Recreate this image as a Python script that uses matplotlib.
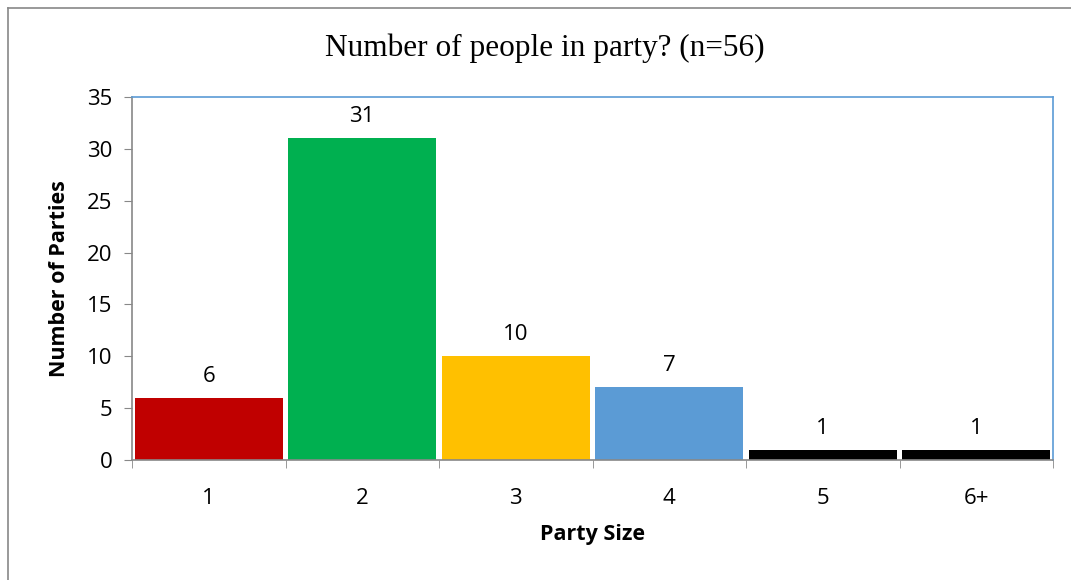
import matplotlib
matplotlib.use("Agg")
import matplotlib.pyplot as plt
from matplotlib.lines import Line2D

categories = ["1", "2", "3", "4", "5", "6+"]
counts = [6, 31, 10, 7, 1, 1]
colors = ["#C00000", "#00B050", "#FFC000", "#5B9BD5", "#000000", "#000000"]
yticks = [0, 5, 10, 15, 20, 25, 30, 35]

W, H = 1071, 580
fig = plt.figure(figsize=(W/100, H/100), dpi=100)
fig.lines.append(Line2D([7.5/W, 7.5/W], [0, 1-7.5/H], transform=fig.transFigure, color="#888888", linewidth=1.2))
fig.lines.append(Line2D([7.5/W, 1], [1-7.5/H, 1-7.5/H], transform=fig.transFigure, color="#888888", linewidth=1.2))
ax = fig.add_axes([132/W, 1-460/H, (1053-132)/W, (460-97)/H])

x = list(range(len(categories)))
ax.bar(x, counts, width=0.965, color=colors, zorder=2)
for xi, v in zip(x, counts):
    ax.annotate(str(v), (xi, v), xytext=(0, 8), textcoords="offset points",
                ha="center", va="bottom", fontsize=16, family="Open Sans")

ax.set_xlim(-0.5, len(categories) - 0.5)
ax.set_ylim(0, 35)
ax.set_yticks(yticks)
ax.set_yticklabels([str(t) for t in yticks], fontsize=16, family="Open Sans")
ax.set_xticks(x)
ax.set_xticklabels(categories, fontsize=16, family="Open Sans")
ax.tick_params(axis="x", length=0, pad=20)
ax.set_xticks([i - 0.5 for i in range(len(categories) + 1)], minor=True)
ax.tick_params(axis="x", which="minor", length=6, color="#888888")
ax.tick_params(axis="y", length=6, color="#888888", pad=8)

for s in ["left", "bottom"]:
    ax.spines[s].set_color("#888888")
for s in ["top", "right"]:
    ax.spines[s].set_color("#5B9BD5")
for s in ax.spines.values():
    s.set_linewidth(1.2)

ax.set_xlabel("Party Size", fontsize=15.5, fontweight="bold", family="Open Sans", labelpad=11)
ax.set_ylabel("Number of Parties", fontsize=15.5, fontweight="bold", family="Open Sans", labelpad=12)
fig.text(545/W, 1-48/H, "Number of people in party? (n=56)", ha="center", va="center",
         fontsize=22.5, family="Liberation Serif")

fig.savefig("out.png", dpi=100)
